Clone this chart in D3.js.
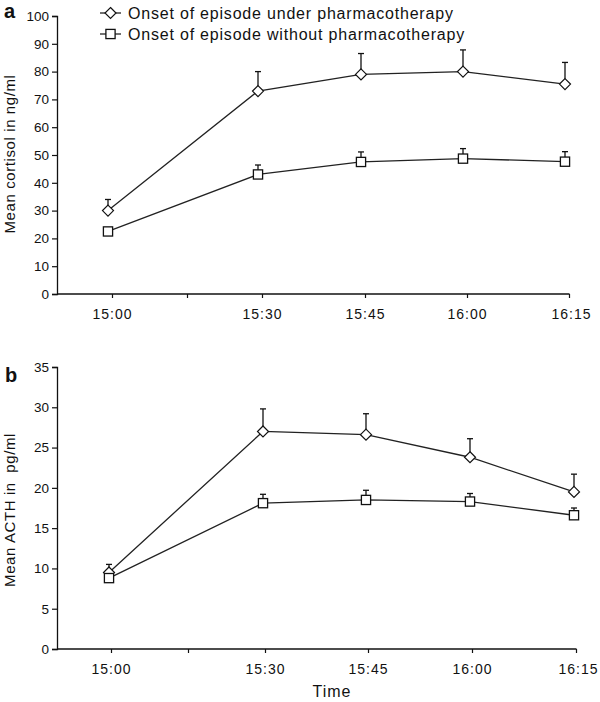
<!DOCTYPE html>
<html>
<head>
<meta charset="utf-8">
<script src="https://cdn.jsdelivr.net/npm/d3@7"></script>
<style>
  html, body { margin: 0; padding: 0; background: #fff; }
  svg { display: block; }
  text { font-family: "Liberation Sans", Arial, sans-serif; fill: #111; }
</style>
</head>
<body>
<svg id="chart" width="600" height="702"></svg>
<script>
// ---- data ----
const times = ["15:00", "15:30", "15:45", "16:00", "16:15"];
const minutes = [0, 30, 45, 60, 75];
const tickMinutes = [0, 15, 30, 45, 60, 75];
const tickLabels = ["15:00", "", "15:30", "15:45", "16:00", "16:15"];

const seriesNames = ["Onset of episode under pharmacotherapy", "Onset of episode without pharmacotherapy"];

const cortisolWith = [30, 73, 79, 80, 75.5];
const cortisolWithErr = [4, 7, 7.5, 7.8, 7.8];
const cortisolWithout = [22.5, 43, 47.5, 48.7, 47.6];
const cortisolWithoutErr = [1, 3.4, 3.6, 3.6, 3.6];

const acthWith = [9.5, 27.0, 26.6, 23.8, 19.5];
const acthWithErr = [1.0, 2.8, 2.6, 2.3, 2.2];
const acthWithout = [8.8, 18.1, 18.5, 18.3, 16.6];
const acthWithoutErr = [0.6, 1.1, 1.2, 1.0, 0.9];

const cortisolTicks = [0, 10, 20, 30, 40, 50, 60, 70, 80, 90, 100];
const acthTicks = [0, 5, 10, 15, 20, 25, 30, 35];

// ---- drawing ----
const svg = d3.select("#chart");
const ink = "#111";

function diamond(g, x, y, r) {
  g.append("path")
    .attr("d", `M${x},${y - r}L${x + r},${y}L${x},${y + r}L${x - r},${y}Z`)
    .attr("fill", "#fff").attr("stroke", ink).attr("stroke-width", 1.2);
}
function square(g, x, y, r) {
  g.append("rect")
    .attr("x", x - r).attr("y", y - r).attr("width", 2 * r).attr("height", 2 * r)
    .attr("fill", "#fff").attr("stroke", ink).attr("stroke-width", 1.3);
}

function panel(opts) {
  const g = svg.append("g");
  const x = d3.scaleLinear().domain(minutes).range(opts.xRange);
  const y = d3.scaleLinear().domain(opts.yDomain).range(opts.yRange);
  const axisX = opts.axisX;
  const y0 = y(0);

  // y axis
  const ya = g.append("g").attr("transform", `translate(${axisX},0)`)
    .call(d3.axisLeft(y).tickValues(opts.yTicks).tickSize(5).tickPadding(3).tickFormat(d3.format("d")));
  ya.select(".domain").attr("stroke", ink).attr("stroke-width", 1.3);
  ya.selectAll(".tick line").attr("stroke", ink).attr("stroke-width", 1.2);
  ya.selectAll(".tick text").attr("font-size", 13.5).attr("font-family", "Liberation Sans, Arial, sans-serif").attr("fill", ink);

  // x axis line
  g.append("line").attr("x1", axisX).attr("x2", x(75) + opts.tickOff)
    .attr("y1", y0).attr("y2", y0).attr("stroke", ink).attr("stroke-width", 1.4);
  tickMinutes.forEach((m, i) => {
    const tx = x(m) + opts.tickOff;
    g.append("line").attr("x1", tx).attr("x2", tx).attr("y1", y0).attr("y2", y0 + 4)
      .attr("stroke", ink).attr("stroke-width", 1.2);
    if (tickLabels[i]) {
      g.append("text").attr("x", tx + (i === 5 ? 2 : 0)).attr("y", y0 + 25)
        .attr("text-anchor", "middle").attr("font-size", 14).attr("letter-spacing", 1)
        .text(tickLabels[i]);
    }
  });

  const line = d3.line().x((d, i) => x(minutes[i])).y(d => y(d));

  const series = [
    { v: opts.with, e: opts.withErr, m: "d" },
    { v: opts.without, e: opts.withoutErr, m: "s" }
  ];
  series.forEach(s => {
    g.append("path").datum(s.v).attr("d", line)
      .attr("fill", "none").attr("stroke", "#222").attr("stroke-width", 1.3);
  });
  series.forEach(s => {
    s.v.forEach((v, i) => {
      const px = x(minutes[i]);
      const top = y(v + s.e[i]);
      g.append("line").attr("x1", px).attr("x2", px).attr("y1", y(v)).attr("y2", top)
        .attr("stroke", ink).attr("stroke-width", 1.3);
      g.append("line").attr("x1", px - 3).attr("x2", px + 3).attr("y1", top).attr("y2", top)
        .attr("stroke", ink).attr("stroke-width", 1.3);
    });
  });
  series.forEach(s => {
    s.v.forEach((v, i) => {
      const px = x(minutes[i]);
      if (s.m === "d") diamond(g, px, y(v), 5.5);
      else square(g, px, y(v), 4.6);
    });
  });

  // y title
  g.append("text")
    .attr("transform", `translate(${opts.titleX},${opts.titleY}) rotate(-90)`)
    .attr("text-anchor", "middle").attr("font-size", 15).attr("letter-spacing", 0.6)
    .style("white-space", "pre")
    .text(opts.title);

  // panel letter
  g.append("text").attr("x", opts.letterX).attr("y", opts.letterY)
    .attr("font-size", 20).attr("font-weight", "bold").text(opts.letter);
  return g;
}

panel({
  xRange: [108, 258, 361, 463, 565], tickOff: 4.5,
  yDomain: [0, 100], yRange: [294, 16], yTicks: cortisolTicks, axisX: 57,
  with: cortisolWith, withErr: cortisolWithErr,
  without: cortisolWithout, withoutErr: cortisolWithoutErr,
  title: "Mean cortisol in ng/ml", titleX: 15, titleY: 154,
  letter: "a", letterX: 4, letterY: 18
});

panel({
  xRange: [109, 263, 366, 470, 574], tickOff: 2.5,
  yDomain: [0, 35], yRange: [649, 367], yTicks: acthTicks, axisX: 57,
  with: acthWith, withErr: acthWithErr,
  without: acthWithout, withoutErr: acthWithoutErr,
  title: "Mean ACTH in  pg/ml", titleX: 15, titleY: 510,
  letter: "b", letterX: 5, letterY: 382
});

// x title
svg.append("text").attr("x", 332).attr("y", 697).attr("text-anchor", "middle")
  .attr("font-size", 16).attr("letter-spacing", 1).text("Time");

// legend
const leg = svg.append("g");
const legY = [13, 34];
legY.forEach((ly, i) => {
  leg.append("line").attr("x1", 100).attr("x2", 121).attr("y1", ly).attr("y2", ly)
    .attr("stroke", ink).attr("stroke-width", 1.2);
  if (i === 0) diamond(leg, 110.5, ly, 5.5);
  else square(leg, 110.5, ly, 4.6);
  leg.append("text").attr("x", 128).attr("y", ly + 5.5)
    .attr("font-size", 16).attr("letter-spacing", 0.8)
    .text(seriesNames[i]);
});
</script>
</body>
</html>
